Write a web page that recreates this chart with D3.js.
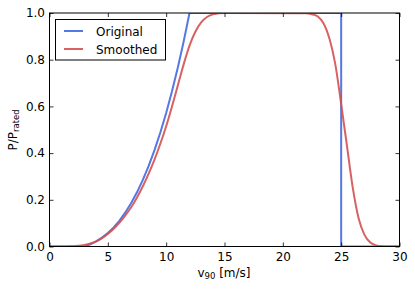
<!DOCTYPE html>
<html><head><meta charset="utf-8">
<script src="https://cdn.jsdelivr.net/npm/d3@7"></script>
<style>body{margin:0;background:#fff;} text{font-family:"DejaVu Sans",sans-serif;}</style>
</head><body>
<svg id="c" width="415" height="290"></svg>
<script>
const origV = [0,3,3.5,4,4.5,5,5.5,6,6.5,7,7.5,8,8.5,9,9.5,10,10.5,11,11.5,12,25,25,30];
const origP = [0,0,0.009,0.022,0.038,0.058,0.082,0.111,0.146,0.186,0.232,0.285,0.345,0.413,0.488,0.572,0.665,0.767,0.878,1,1,0,0];
const smoothV = [0,1,1.5,2,2.5,3,3.5,4,4.5,5,5.5,6,6.5,7,7.5,8,8.5,9,9.5,10,10.5,11,11.5,12,12.5,13,13.5,14,14.5,15,22,22.5,23,23.5,24,24.5,25,25.5,26,26.5,27,27.5,28,28.5,29,30];
const smoothP = [0,0,0.0005,0.001,0.003,0.007,0.013,0.022,0.036,0.054,0.076,0.102,0.133,0.168,0.210,0.258,0.312,0.372,0.440,0.515,0.600,0.690,0.780,0.860,0.920,0.960,0.983,0.994,0.999,1,0.999,0.995,0.985,0.955,0.89,0.78,0.61,0.43,0.25,0.12,0.05,0.017,0.005,0.001,0,0];
const xTicks = [0,5,10,15,20,25,30];
const yTicks = [0,0.2,0.4,0.6,0.8,1.0];
const seriesNames = ["Original","Smoothed"];
const colors = ["#4169E1","#D45050"];

const svg = d3.select("#c");
const L=49.5, R=399.5, T=13, B=246.5;
const x = d3.scaleLinear().domain([0,30]).range([L,R]);
const y = d3.scaleLinear().domain([0,1]).range([B,T]);

svg.append("clipPath").attr("id","cp").append("rect")
  .attr("x",L).attr("y",T).attr("width",R-L).attr("height",B-T);

const line = d3.line().x(d=>x(d[0])).y(d=>y(d[1]));
const g = svg.append("g").attr("clip-path","url(#cp)");
g.append("path").datum(origV.map((v,i)=>[v,origP[i]]))
  .attr("d",line).attr("fill","none").attr("stroke",colors[0]).attr("stroke-width",2).attr("stroke-opacity",0.9);
g.append("path").datum(smoothV.map((v,i)=>[v,smoothP[i]]))
  .attr("d",d3.line().curve(d3.curveMonotoneX).x(d=>x(d[0])).y(d=>y(d[1])))
  .attr("fill","none").attr("stroke",colors[1]).attr("stroke-width",2).attr("stroke-opacity",0.9);

const ax = (gen, tr)=> svg.append("g").attr("transform",tr).call(gen);
const fmtY = d3.format(".1f");
const bottom = ax(d3.axisBottom(x).tickValues(xTicks).tickSizeInner(-4).tickSizeOuter(0).tickPadding(6), `translate(0,${B})`);
const top_ = ax(d3.axisTop(x).tickValues(xTicks).tickSizeInner(-4).tickSizeOuter(0).tickFormat(""), `translate(0,${T})`);
const left = ax(d3.axisLeft(y).tickValues(yTicks).tickSizeInner(-4).tickSizeOuter(0).tickPadding(4.5).tickFormat(fmtY), `translate(${L},0)`);
const right = ax(d3.axisRight(y).tickValues(yTicks).tickSizeInner(-4).tickSizeOuter(0).tickFormat(""), `translate(${R},0)`);
[bottom,top_,left,right].forEach(a=>{
  a.select(".domain").remove();
  a.selectAll("line").attr("stroke","#000").attr("stroke-width",0.8);
  a.selectAll("text").attr("font-size",12).attr("fill","#000").attr("font-family","DejaVu Sans");
});
svg.append("rect").attr("x",L).attr("y",T).attr("width",R-L).attr("height",B-T)
  .attr("fill","none").attr("stroke","#000").attr("stroke-width",1);

const xl = svg.append("text").attr("x",224).attr("y",277).attr("text-anchor","middle").attr("font-size",12);
xl.append("tspan").text("v");
xl.append("tspan").attr("font-size",8.5).attr("dy",2).text("90");
xl.append("tspan").attr("dy",-2).text(" [m/s]");
const yl = svg.append("text").attr("transform","translate(17,130) rotate(-90)").attr("text-anchor","middle").attr("font-size",12);
yl.append("tspan").text("P");
yl.append("tspan").text("/");
yl.append("tspan").text("P");
yl.append("tspan").attr("font-size",8.5).attr("dy",2).text("rated");

const lg = svg.append("g");
lg.append("rect").attr("x",55.5).attr("y",19.5).attr("width",110).attr("height",40.5)
  .attr("fill","#fff").attr("stroke","#000").attr("stroke-width",1);
seriesNames.forEach((n,i)=>{
  const yy = 31 + i*18;
  lg.append("line").attr("x1",64).attr("x2",83).attr("y1",yy).attr("y2",yy)
    .attr("stroke",colors[i]).attr("stroke-width",2).attr("stroke-opacity",0.9);
  lg.append("text").attr("x",96).attr("y",yy+4.5).attr("font-size",12).text(n);
});
</script>
</body></html>
